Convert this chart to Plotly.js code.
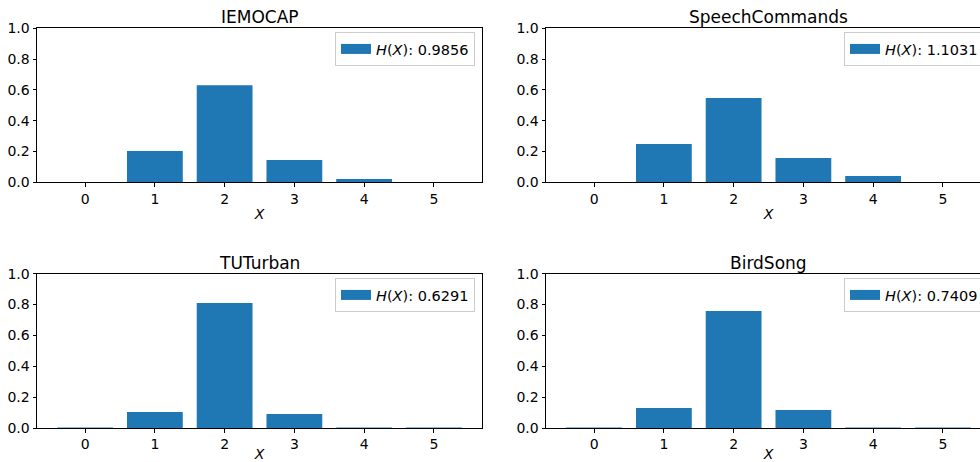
<!DOCTYPE html>
<html>
<head>
<meta charset="utf-8">
<script src="https://cdn.plot.ly/plotly-3.0.1.min.js"></script>
<style>
html, body { margin: 0; padding: 0; overflow: hidden; background: #fff; }
#chart { width: 995px; height: 462px; }
</style>
</head>
<body>
<div id="chart"></div>
<script>
// ---- data ----
const categories = [0, 1, 2, 3, 4, 5];
const datasetNames = ["IEMOCAP", "SpeechCommands", "TUTurban", "BirdSong"];
const iemocapValues = [0.0, 0.203, 0.630, 0.144, 0.021, 0.001];
const speechCommandsValues = [0.0, 0.249, 0.547, 0.158, 0.041, 0.002];
const tuturbanValues = [0.003, 0.104, 0.810, 0.091, 0.003, 0.003];
const birdSongValues = [0.003, 0.130, 0.758, 0.117, 0.003, 0.003];
const entropyLabels = ["0.9856", "1.1031", "0.6291", "0.7409"];
const yTickValues = [0, 0.2, 0.4, 0.6, 0.8, 1.0];

const seriesList = [iemocapValues, speechCommandsValues, tuturbanValues, birdSongValues];

// ---- layout helpers ----
const W = 995, H = 462;
const BLUE = "#1f77b4";
const FONT = "DejaVu Sans";
const TICK_SIZE = 14;
const xDomains = [[37 / W, 482 / W], [546 / W, 991 / W]];
const yDomains = [[(H - 182.3) / H, (H - 28.3) / H], [(H - 428) / H, (H - 273.7) / H]];

const traces = [];
const layout = {
  width: W, height: H,
  margin: { l: 0, r: 0, t: 0, b: 0 },
  paper_bgcolor: "#fff", plot_bgcolor: "#fff",
  font: { family: FONT, size: TICK_SIZE, color: "#000" },
  showlegend: true,
  bargap: 0.2,
  annotations: []
};

seriesList.forEach((vals, i) => {
  const row = Math.floor(i / 2), col = i % 2;
  const n = i + 1;
  const xa = n === 1 ? "x" : "x" + n;
  const ya = n === 1 ? "y" : "y" + n;
  const legName = n === 1 ? "legend" : "legend" + n;

  traces.push({
    type: "bar", x: categories, y: vals, xaxis: xa, yaxis: ya,
    width: 0.8, marker: { color: BLUE, line: { width: 0 } },
    showlegend: false, hoverinfo: "skip"
  });
  traces.push({
    type: "scatter", mode: "lines", x: [null], y: [null], xaxis: xa, yaxis: ya,
    line: { color: BLUE, width: 10 },
    name: "<i>H</i>(<i>X</i>): " + entropyLabels[i],
    legend: legName, showlegend: true
  });

  const axisCommon = {
    showline: true, mirror: true, linecolor: "#000", linewidth: 1,
    showgrid: false, zeroline: false,
    ticks: "outside", ticklen: 3.5, tickwidth: 1, tickcolor: "#000",
    tickfont: { family: FONT, size: TICK_SIZE, color: "#000" }
  };
  layout[n === 1 ? "xaxis" : "xaxis" + n] = Object.assign({}, axisCommon, {
    domain: xDomains[col], anchor: ya,
    range: [-0.69, 5.69], tickmode: "array", tickvals: categories,
    ticktext: categories.map(String),
    title: { text: "<i>X</i>", font: { family: FONT, size: TICK_SIZE, color: "#000" }, standoff: 3 }
  });
  layout[n === 1 ? "yaxis" : "yaxis" + n] = Object.assign({}, axisCommon, {
    domain: yDomains[row], anchor: xa,
    range: [0, 1], tickmode: "array", tickvals: yTickValues,
    ticktext: yTickValues.map(v => v.toFixed(1))
  });

  const legX = col === 0 ? 475 / W : 984 / W;
  const legTop = row === 0 ? 32 : 278;
  layout[legName] = {
    x: legX, xanchor: "right", y: (H - legTop) / H, yanchor: "top",
    bgcolor: "rgba(255,255,255,0.8)", bordercolor: "#cccccc", borderwidth: 1,
    font: { family: FONT, size: 14.5, color: "#000" },
    itemclick: false, itemdoubleclick: false
  };

  layout.annotations.push({
    xref: "paper", yref: "paper",
    x: (xDomains[col][0] + xDomains[col][1]) / 2,
    y: yDomains[row][1], yanchor: "bottom", xanchor: "center", yshift: -1,
    text: datasetNames[i], showarrow: false,
    font: { family: FONT, size: 17, color: "#000" }
  });
});

Plotly.newPlot("chart", traces, layout, { displayModeBar: false, staticPlot: true });
</script>
</body>
</html>
